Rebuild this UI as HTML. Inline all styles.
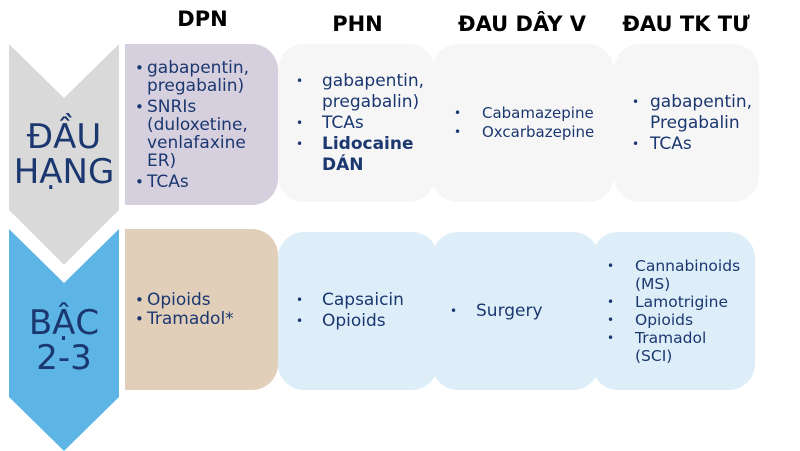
<!DOCTYPE html>
<html><head><meta charset="utf-8"><style>
body{margin:0;width:800px;height:451px;background:#fff;position:relative;overflow:hidden;font-family:"DejaVu Sans","Liberation Sans",sans-serif;color:#1b3770}
.a{position:absolute}
.h{font-weight:bold;color:#000;font-size:21px;text-align:center}
.b{position:absolute;border-radius:26px;display:flex;align-items:center}
.b ul{margin:0;padding:0;list-style:none}
.b li{position:relative;padding-left:28px;line-height:21px}
.b li:before{content:"•";position:absolute;left:10px;font-size:12px}
.d li{padding-left:12px;line-height:18px;margin:3px 0}
.d li:before{left:0;font-size:15px}
</style></head><body>
<div class="a h" style="left:125px;top:7px;width:155px">DPN</div>
<div class="a h" style="left:280px;top:12px;width:155px">PHN</div>
<div class="a h" style="left:432px;top:12px;width:180px">ĐAU DÂY V</div>
<div class="a h" style="left:612px;top:12px;width:148px">ĐAU TK TƯ</div>
<svg class="a" style="left:0;top:0" width="125" height="451">
<polygon points="9,44 64,98 119,44 119,210 64,265 9,210" fill="#d9d9d9"/>
<polygon points="9,229 64,283 119,229 119,397 64,451 9,397" fill="#5db5e5"/>
</svg>
<div class="a" style="left:9px;top:120px;width:110px;text-align:center;font-size:34px;line-height:35px">ĐẦU<br>HẠNG</div>
<div class="a" style="left:9px;top:306px;width:110px;text-align:center;font-size:34px;line-height:35px">BẬC<br>2-3</div>

<div class="b d" style="left:125px;top:44px;width:153px;height:161px;background:#d6d0de;border-radius:0 26px 26px 0;font-size:17px"><ul style="padding-left:10px;width:135px"><li>gabapentin, pregabalin)</li><li>SNRIs (duloxetine, venlafaxine ER)</li><li>TCAs</li></ul></div>
<div class="b d" style="left:125px;top:229px;width:153px;height:161px;background:#e2cfba;border-radius:0 26px 26px 0;font-size:17px"><ul style="padding-left:10px"><li style="margin:1px 0">Opioids</li><li style="margin:1px 0">Tramadol*</li></ul></div>

<div class="b" style="left:278px;top:44px;width:157px;height:158px;background:#f6f6f6;font-size:17px"><ul style="padding-left:8px;width:140px"><li style="padding-left:36px">gabapentin, pregabalin)</li><li style="padding-left:36px">TCAs</li><li style="padding-left:36px"><b>Lidocaine DÁN</b></li></ul></div>
<div class="b" style="left:432px;top:44px;width:182px;height:158px;background:#f6f6f6;font-size:15px"><ul style="padding-left:12px"><li style="padding-left:38px;line-height:19px">Cabamazepine</li><li style="padding-left:38px;line-height:19px">Oxcarbazepine</li></ul></div>
<div class="b" style="left:614px;top:44px;width:145px;height:158px;background:#f6f6f6;font-size:17px"><ul style="padding-left:8px;width:135px"><li style="padding-left:28px">gabapentin, Pregabalin</li><li style="padding-left:28px">TCAs</li></ul></div>

<div class="b" style="left:278px;top:232px;width:160px;height:158px;background:#ddeef9;font-size:17px"><ul style="padding-left:8px"><li style="padding-left:36px">Capsaicin</li><li style="padding-left:36px">Opioids</li></ul></div>
<div class="b" style="left:432px;top:232px;width:167px;height:158px;background:#ddeef9;font-size:17px"><ul style="padding-left:8px"><li style="padding-left:36px">Surgery</li></ul></div>
<div class="b" style="left:592px;top:232px;width:163px;height:158px;background:#ddeef9;font-size:15.5px"><ul style="padding-left:5px;width:148px"><li style="line-height:18px;padding-left:38px">Cannabinoids (MS)</li><li style="line-height:18px;padding-left:38px">Lamotrigine</li><li style="line-height:18px;padding-left:38px">Opioids</li><li style="line-height:18px;padding-left:38px">Tramadol (SCI)</li></ul></div>
</body></html>
